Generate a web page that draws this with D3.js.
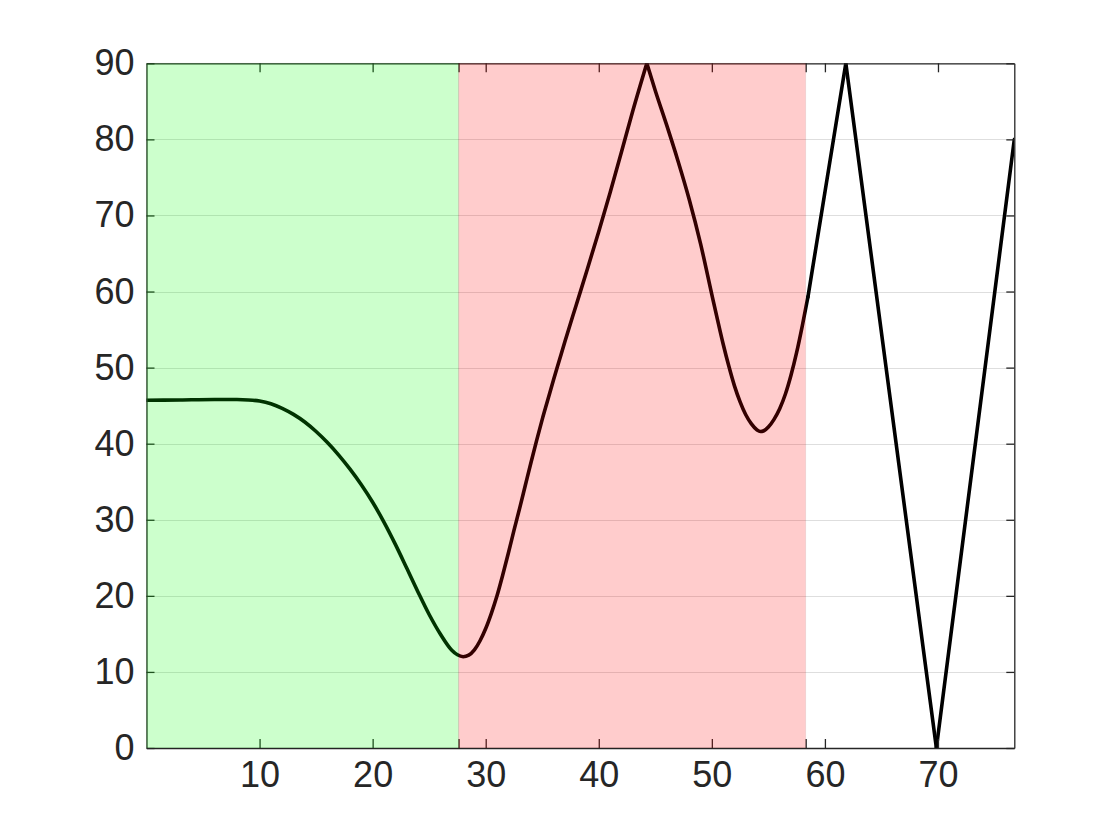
<!DOCTYPE html>
<html>
<head>
<meta charset="utf-8">
<script src="https://cdn.jsdelivr.net/npm/d3@7"></script>
<style>
    body { margin: 0; background: #ffffff; }
    #chart text { font-family: "Liberation Sans", Arial, Helvetica, sans-serif; }
</style>
</head>
<body>
<div id="chart"></div>
<script>
// curve samples
const curveX = [0, 3, 6, 8, 9, 10, 11, 12, 13, 14, 15, 16, 17, 18, 19, 20, 21, 22, 23, 24, 25, 26, 27, 27.5, 28,
    28.5, 29, 29.5, 30, 30.5, 31, 31.5, 32, 32.5, 33, 33.5, 34, 34.5, 35, 35.5, 36, 36.5, 37, 38, 39, 40, 41, 42, 43, 44.25,
    45, 46, 47, 48, 49, 50, 50.5, 51, 51.5, 52, 52.5, 53, 53.5, 54, 54.3, 54.6, 55, 55.5, 56, 56.5, 57, 57.5, 58, 58.5,
    61.85, 69.86, 76.75];
const curveY = [45.7, 45.75, 45.8, 45.8, 45.75, 45.6, 45.25, 44.65, 43.85, 42.85, 41.6, 40.15, 38.5, 36.65, 34.6, 32.3, 29.7, 26.8, 23.7, 20.55, 17.55, 14.95, 12.85, 12.25, 12.0,
    12.2, 12.9, 14.1, 15.7, 17.7, 20.0, 22.7, 25.6, 28.6, 31.5, 34.5, 37.5, 40.4, 43.2, 45.8, 48.4, 50.9, 53.4, 58.2, 63.0, 67.9, 73.0, 78.3, 83.7, 90,
    86.4, 81.9, 77.2, 72.1, 66.3, 59.6, 56.3, 53.1, 50.2, 47.6, 45.5, 43.8, 42.6, 41.8, 41.6, 41.7, 42.2, 43.2, 44.6, 46.5, 49.0, 52.0, 55.5, 59.3,
    90, 0, 80];
// x values where the curve has a sharp corner (smooth pieces are split there)
const cornerX = [44.25, 58.5, 61.85, 69.86];

const xDomain = [0, 76.75];
const yDomain = [0, 90];
const xTickValues = [10, 20, 30, 40, 50, 60, 70];
const yTickValues = [0, 10, 20, 30, 40, 50, 60, 70, 80, 90];

// shaded regions [start, end]
const greenRegion = [0, 27.6];
const redRegion = [27.6, 58.3];

class ShadedLineChartD3 {
    constructor(xs, ys, width, height) {
        this.dataset = xs.map(function (x, i) { return [x, ys[i]]; });
        this.width = width;
        this.height = height;
        this.box = { left: 146.5, right: 1014.3, top: 63.3, bottom: 748 };
        this.axisColor = "#262626";
        this.fontSize = 36;
    }

    plot(element_id) {
        this.svg = this._initPlotArea(element_id);
        this._setScale();
        this._addGrid();
        this._addLine();
        this._addAxis();
        this._addRegion(greenRegion, "#00ff00");
        this._addRegion(redRegion, "#ff0000");
    }

    _initPlotArea(element_id) {
        d3.select(element_id).selectAll("svg").remove();
        return d3.select(element_id).append("svg").attr("width", this.width).attr("height", this.height);
    }
    _setScale() {
        this.xScale = d3.scaleLinear().domain(xDomain).range([this.box.left, this.box.right]);
        this.yScale = d3.scaleLinear().domain(yDomain).range([this.box.bottom, this.box.top]);
    }
    _addGrid() {
        let xScale = this.xScale, yScale = this.yScale;
        this.svg.append("g")
            .selectAll("line")
            .data(yTickValues)
            .enter()
            .append("line")
            .attr("x1", xScale(xDomain[0]))
            .attr("x2", xScale(xDomain[1]))
            .attr("y1", function (d) { return Math.round(yScale(d)) + 0.5; })
            .attr("y2", function (d) { return Math.round(yScale(d)) + 0.5; })
            .attr("stroke", "#dedede")
            .attr("stroke-width", 1);
    }
    _splitAtCorners() {
        // pieces share their end points so the strokes meet
        let pieces = [[]];
        this.dataset.forEach(function (d) {
            pieces[pieces.length - 1].push(d);
            if (cornerX.indexOf(d[0]) >= 0) pieces.push([d]);
        });
        return pieces;
    }
    _addLine() {
        let xScale = this.xScale, yScale = this.yScale;
        this.svg.append("clipPath").attr("id", "plot-clip")
            .append("rect")
            .attr("x", this.box.left)
            .attr("y", this.box.top)
            .attr("width", this.box.right - this.box.left)
            .attr("height", this.box.bottom - this.box.top);
        let line = d3.line()
            .curve(d3.curveMonotoneX)
            .x(function (d) { return xScale(d[0]); })
            .y(function (d) { return yScale(d[1]); });
        this.svg.append("g")
            .attr("clip-path", "url(#plot-clip)")
            .selectAll("path")
            .data(this._splitAtCorners())
            .enter()
            .append("path")
            .attr("d", line)
            .attr("fill", "none")
            .attr("stroke", "#000000")
            .attr("stroke-width", 3.6)
            .attr("stroke-linecap", "round");
    }
    _addAxis() {
        // extra unlabelled ticks sit on the region boundaries
        let xTicks = xTickValues.concat([greenRegion[1], redRegion[1]]).sort(d3.ascending);
        let fmt = function (d) { return xTickValues.indexOf(d) >= 0 ? d : ""; };
        let b = this.box;

        let bottom = this.svg.append("g")
            .attr("transform", "translate(0," + b.bottom + ")")
            .call(d3.axisBottom(this.xScale).tickValues(xTicks).tickFormat(fmt)
                .tickSizeInner(-9).tickSizeOuter(0).tickPadding(13));
        let top = this.svg.append("g")
            .attr("transform", "translate(0," + b.top + ")")
            .call(d3.axisTop(this.xScale).tickValues(xTicks).tickFormat("")
                .tickSizeInner(-9).tickSizeOuter(0));
        let left = this.svg.append("g")
            .attr("transform", "translate(" + b.left + ",0)")
            .call(d3.axisLeft(this.yScale).tickValues(yTickValues)
                .tickSizeInner(-8).tickSizeOuter(0).tickPadding(12));
        let right = this.svg.append("g")
            .attr("transform", "translate(" + b.right + ",0)")
            .call(d3.axisRight(this.yScale).tickValues(yTickValues).tickFormat("")
                .tickSizeInner(-8).tickSizeOuter(0));

        let color = this.axisColor, size = this.fontSize;
        [bottom, top, left, right].forEach(function (g) {
            g.select(".domain").attr("stroke", color).attr("stroke-width", 1.3);
            g.selectAll(".tick line").attr("stroke", color).attr("stroke-width", 1.3);
            g.selectAll(".tick text")
                .attr("fill", color)
                .style("font-size", size + "px");
        });
    }
    _addRegion(region, color) {
        let xScale = this.xScale, yScale = this.yScale;
        this.svg.append("rect")
            .attr("x", xScale(region[0]))
            .attr("y", yScale(yDomain[1]))
            .attr("width", xScale(region[1]) - xScale(region[0]))
            .attr("height", yScale(yDomain[0]) - yScale(yDomain[1]))
            .attr("fill", color)
            .attr("fill-opacity", 0.2)
            .attr("stroke", "#000000")
            .attr("stroke-opacity", 0.06)
            .attr("stroke-width", 1);
    }
}

let chart = new ShadedLineChartD3(curveX, curveY, 1120, 840);
chart.plot("#chart");
</script>
</body>
</html>
